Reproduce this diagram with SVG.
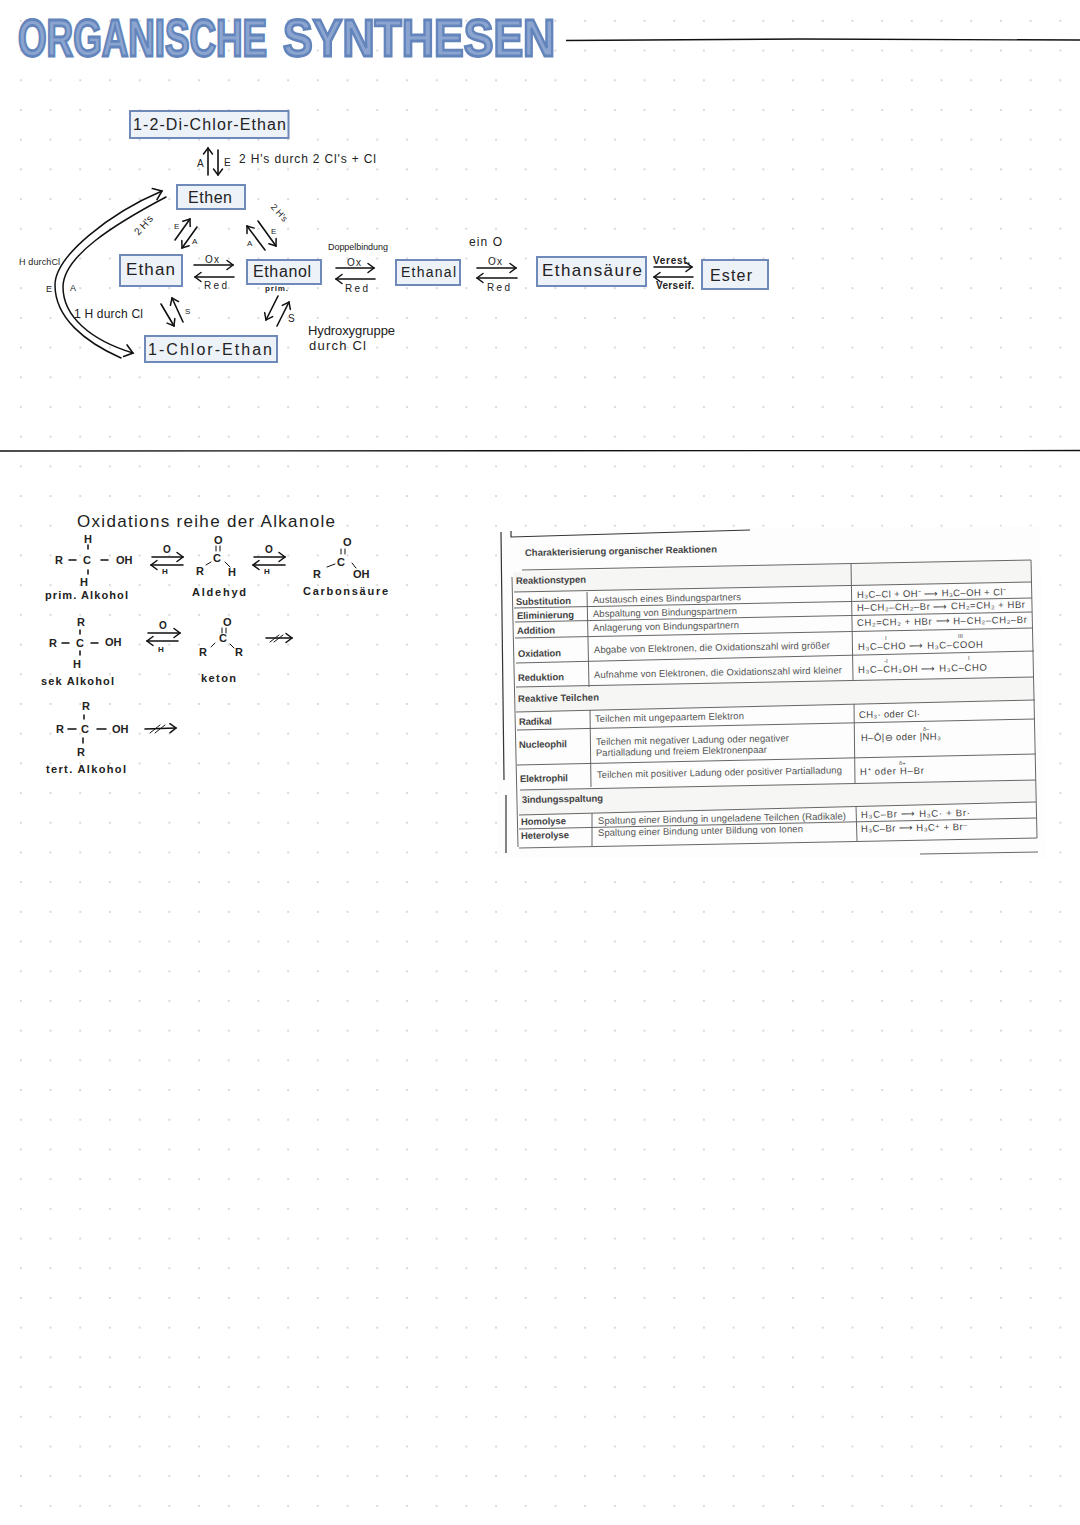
<svg xmlns="http://www.w3.org/2000/svg" width="1080" height="1525" viewBox="0 0 1080 1525">
<style>
text{font-family:"Liberation Sans",Arial,sans-serif;fill:#222}
.title{font-size:52px;font-weight:bold;fill:#8ba5d0;stroke:#6485bb;stroke-width:2.8}
.box{fill:#edf1f8;stroke:#6f8ab8;stroke-width:2}
.n{font-size:16px}
.s{font-size:10px}
.m{font-size:12px}
.c{font-size:11px;font-weight:bold}
.hw{fill:none;stroke:#111;stroke-width:1.5;stroke-linecap:round}
.ar{fill:none;stroke:#111;stroke-width:1.6;stroke-linecap:round;marker-end:url(#a)}
.bar{fill:none;stroke:#111;stroke-width:1.5;stroke-linecap:round;marker-end:url(#b)}
.rule{stroke:#666;stroke-width:1;fill:none}
.dark{stroke:#333;stroke-width:1.2;fill:none}
.tb{font-size:9.5px;font-weight:bold;fill:#444}
.tt{font-size:9.5px;fill:#555}
.tf{font-size:9.5px;fill:#444}
.ts{font-size:6px;fill:#555}
</style>
<defs>
<pattern id="dots" x="6" y="6" width="29.7" height="29.7" patternUnits="userSpaceOnUse"><circle cx="14.85" cy="14.85" r="0.9" fill="#c8c8c8"/></pattern>
<marker id="a" markerUnits="userSpaceOnUse" markerWidth="12" markerHeight="12" refX="9" refY="6" orient="auto"><path d="M3 1.5L9 6L3 10.5" fill="none" stroke="#111" stroke-width="1.5" stroke-linecap="round"/></marker>
<marker id="b" markerUnits="userSpaceOnUse" markerWidth="16" markerHeight="16" refX="12" refY="8" orient="auto"><path d="M4 2L12 8L4 14" fill="none" stroke="#111" stroke-width="1.6" stroke-linecap="round"/></marker>
</defs>
<rect width="1080" height="1525" fill="#fff"/>
<rect width="1080" height="1515" fill="url(#dots)"/>

<g id="title">
<text class="title" transform="translate(18 56) scale(.707 1)">ORGANISCHE</text>
<text class="title" transform="translate(283 56) scale(.857 1)">SYNTHESEN</text>
</g>
<g id="rules">
<path d="M566 40.5L800 39L1080 40" fill="none" stroke="#111" stroke-width="1.3"/>
<path d="M0 451L1080 450.5" fill="none" stroke="#111" stroke-width="1.3"/>
</g>

<g id="connectors">
<path class="ar" d="M208 175V148"/><path class="ar" d="M218 150V175"/>
<path class="bar" d="M121 358C85 342 55 318 55 285C55 256 110 213 162 191"/>
<path class="bar" d="M166 197C115 224 63 256 63 287C63 316 90 340 133 353"/>
<path class="ar" d="M175 240L190 219"/><path class="ar" d="M197 227L182 248"/>
<path class="ar" d="M265 250L247 226"/><path class="ar" d="M258 221L276 246"/>
<path class="ar" d="M194 265H233"/><path class="ar" d="M234 277H195"/>
<path class="ar" d="M336 268H374"/><path class="ar" d="M375 279H336"/>
<path class="ar" d="M477 268H516"/><path class="ar" d="M517 278H477"/>
<path class="ar" d="M654 267H692"/><path class="ar" d="M693 277H654"/>
<path class="ar" d="M161 304L174 326"/><path class="ar" d="M183 322L172 298"/>
<path class="ar" d="M278 296L266 320"/><path class="ar" d="M277 326L289 302"/>
<path class="ar" d="M152 557H183"/><path class="ar" d="M183 565H151"/>
<path class="ar" d="M254 557H285"/><path class="ar" d="M285 565H253"/>
<path class="ar" d="M148 633H180"/><path class="ar" d="M178 641H147"/>
<path class="ar" d="M266 638H292"/><path class="hw" style="stroke-width:1" d="M270 642L279 635M274 642L283 635"/>
<path class="ar" d="M145 729L176 728"/><path class="hw" style="stroke-width:1" d="M150 733L160 725M155 733L165 725"/>
</g>

<g id="n-dichlor"><rect class="box" x="130" y="111" width="158.500" height="27"/><text class="n" x="133" y="130" textLength="153">1-2-Di-Chlor-Ethan</text></g>
<g id="n-ethen"><rect class="box" x="177" y="185" width="68" height="24"/><text class="n" x="188" y="203" textLength="44">Ethen</text></g>
<g id="n-ethan"><rect class="box" x="120" y="255" width="62" height="31"/><text class="n" x="126" y="275" textLength="49" style="font-size:17px">Ethan</text></g>
<g id="n-ethanol"><rect class="box" x="247" y="260" width="74" height="24"/><text class="n" x="253" y="277" textLength="58">Ethanol</text></g>
<g id="n-chlor"><rect class="box" x="145" y="336" width="132" height="26"/><text class="n" x="148" y="355" textLength="124">1-Chlor-Ethan</text></g>
<g id="n-ethanal"><rect class="box" x="396" y="260" width="64" height="25"/><text class="n" x="401" y="277" textLength="55" style="font-size:14px">Ethanal</text></g>
<g id="n-saeure"><rect class="box" x="537" y="257" width="109" height="29"/><text class="n" x="542" y="276" textLength="100" style="font-size:17px">Ethansäure</text></g>
<g id="n-ester"><rect class="box" x="702" y="260" width="66" height="29"/><text class="n" x="710" y="281" textLength="42">Ester</text></g>

<g id="labels">
<text class="s" x="197" y="167">A</text><text class="s" x="224" y="166">E</text>
<text class="m" x="239" y="163" textLength="137">2 H's durch 2 Cl's + Cl</text>
<text class="s" transform="rotate(-48 143 225)" x="132" y="229">2 H's</text>
<text class="s" transform="rotate(48 280 212)" x="270" y="216" style="font-size:9px">2 H's</text>
<text class="s" x="174" y="229" style="font-size:8px">E</text><text class="s" x="192" y="244" style="font-size:8px">A</text>
<text class="s" x="247" y="246" style="font-size:8px">A</text><text class="s" x="271" y="234" style="font-size:8px">E</text>
<text class="s" x="185" y="314" style="font-size:8px">S</text><text class="s" x="288" y="322">S</text>
<text class="s" x="19" y="265" textLength="41" style="font-size:9px">H durchCl</text>
<text class="s" x="46" y="292" style="font-size:9px">E</text><text class="s" x="70" y="291" style="font-size:9px">A</text>
<text class="m" x="74" y="318" textLength="69">1 H durch Cl</text>
<text class="s" x="205" y="263" textLength="14">Ox</text><text class="s" x="204" y="289" textLength="23">Red</text>
<text class="s" x="265" y="291" textLength="23" style="font-size:8px;font-weight:bold">prim.</text>
<text class="s" x="328" y="250" textLength="60" style="font-size:9px">Doppelbindung</text>
<text class="s" x="347" y="266" textLength="14">Ox</text><text class="s" x="345" y="292" textLength="23">Red</text>
<text class="m" x="469" y="246" textLength="33">ein O</text>
<text class="s" x="488" y="265" textLength="14">Ox</text><text class="s" x="487" y="291" textLength="23">Red</text>
<text class="s" x="653" y="264" textLength="37" style="font-weight:bold">Verest.</text>
<text class="s" x="656" y="289" textLength="38" style="font-weight:bold">Verseif.</text>
<text class="m" x="308" y="335" textLength="87" style="font-size:13px">Hydroxygruppe</text>
<text class="m" x="309" y="350" textLength="57" style="font-size:13px">durch Cl</text>
</g>

<g id="oxidation">
<text x="77" y="527" font-size="17" textLength="258">Oxidations reihe der Alkanole</text>
<g class="chem">
<text class="c" x="84" y="543">H</text><path class="hw" d="M88 545V549M88 570V574"/>
<text class="c" x="55" y="564">R</text><path class="hw" d="M69 560H76M101 560H108"/>
<text class="c" x="83" y="564">C</text><text class="c" x="116" y="564">OH</text><text class="c" x="80" y="586">H</text>
<text class="c" x="45" y="599" textLength="83">prim. Alkohol</text>
<text class="s" x="163" y="553" style="font-weight:bold">O</text><text class="s" x="162" y="574" style="font-size:8px;font-weight:bold">H</text>
<text class="c" x="214" y="544">O</text><path class="hw" style="stroke-width:1" d="M216 546V551M220 546V551M206 565L211 562M225 562L230 567"/>
<text class="c" x="213" y="562">C</text><text class="c" x="196" y="575">R</text><text class="c" x="228" y="576">H</text>
<text class="c" x="192" y="596" textLength="54">Aldehyd</text>
<text class="s" x="265" y="553" style="font-weight:bold">O</text><text class="s" x="264" y="574" style="font-size:8px;font-weight:bold">H</text>
<text class="c" x="343" y="546">O</text><path class="hw" style="stroke-width:1" d="M341 549V554M345 549V554M327 567L335 564M352 563L356 568"/>
<text class="c" x="337" y="566">C</text><text class="c" x="313" y="578">R</text><text class="c" x="353" y="578">OH</text>
<text class="c" x="303" y="595" textLength="85">Carbonsäure</text>
<text class="c" x="77" y="626">R</text><path class="hw" d="M80 630V634M80 651V655M62 643H69M91 643H98"/>
<text class="c" x="49" y="647">R</text><text class="c" x="76" y="647">C</text><text class="c" x="105" y="646">OH</text><text class="c" x="73" y="668">H</text>
<text class="c" x="41" y="685" textLength="73">sek Alkohol</text>
<text class="s" x="159" y="629" style="font-weight:bold">O</text><text class="s" x="158" y="652" style="font-size:8px;font-weight:bold">H</text>
<text class="c" x="223" y="626">O</text><path class="hw" style="stroke-width:1" d="M222 628V633M226 628V633M211 647L215 643M230 644L234 648"/>
<text class="c" x="219" y="642">C</text><text class="c" x="199" y="656">R</text><text class="c" x="235" y="656">R</text>
<text class="c" x="201" y="682" textLength="35">keton</text>
<text class="c" x="82" y="710">R</text><path class="hw" d="M84 715V719M83 738V743M68 729H76M97 729H106"/>
<text class="c" x="56" y="733">R</text><text class="c" x="81" y="733">C</text><text class="c" x="112" y="733">OH</text><text class="c" x="77" y="756">R</text>
<text class="c" x="46" y="773" textLength="80">tert. Alkohol</text>
</g>
</g>

<g id="table">
<path d="M497 531L1040 526L1045 858L497 858Z" fill="#fdfdfd"/>
<path d="M514 592L1031 582L1031 560L513 572Z M516 712L1035 700L1034 677L516 687Z M519 815L1036 802L1036 780L520 790Z" fill="#f6f6f5"/>
<path class="dark" d="M501 532L504 780M506 795L506 853M511 531V537L750 530"/>
<path class="rule" d="M522 570L1031 560M512 577L518 847M1031 560L1037 838M920 854L1038 852"/>
<path class="rule" d="M514 592L1031 582M514 608L1032 598M515 622L1032 612M515 638L1033 628M516 663L1034 651M516 687L1034 677M516 712L1035 700M517 730L1035 719M517 765L1036 754M520 790L1036 780M519 815L1036 802M519 829L1036 818M519 848L1037 838"/>
<path class="rule" d="M587 592L589 687M590 710L591 787M592 813L592 846M851 563L853 680M854 704L855 783M856 806L857 841"/>
<g id="table-text">
<text class="tb" transform="rotate(-1.1 525 556)" x="525" y="556" textLength="192">Charakterisierung organischer Reaktionen</text>
<text class="tb" transform="rotate(-1.1 516 584)" x="516" y="584" textLength="70">Reaktionstypen</text>
<text class="tb" transform="rotate(-1.1 516 605)" x="516" y="605" textLength="55">Substitution</text>
<text class="tb" transform="rotate(-1.1 517 619)" x="517" y="619" textLength="57">Eliminierung</text>
<text class="tb" transform="rotate(-1.1 517 634)" x="517" y="634" textLength="38">Addition</text>
<text class="tb" transform="rotate(-1.1 518 657)" x="518" y="657" textLength="43">Oxidation</text>
<text class="tb" transform="rotate(-1.1 518 681)" x="518" y="681" textLength="46">Reduktion</text>
<text class="tb" transform="rotate(-1.1 518 702)" x="518" y="702" textLength="81">Reaktive Teilchen</text>
<text class="tb" transform="rotate(-1.1 519 725)" x="519" y="725" textLength="33">Radikal</text>
<text class="tb" transform="rotate(-1.1 519 748)" x="519" y="748" textLength="48">Nucleophil</text>
<text class="tb" transform="rotate(-1.1 520 782)" x="520" y="782" textLength="48">Elektrophil</text>
<text class="tb" transform="rotate(-1.1 522 803)" x="522" y="803" textLength="81">3indungsspaltung</text>
<text class="tb" transform="rotate(-1.1 521 825)" x="521" y="825" textLength="45">Homolyse</text>
<text class="tb" transform="rotate(-1.1 521 839)" x="521" y="839" textLength="48">Heterolyse</text>
<text class="tt" transform="rotate(-1.1 593 603)" x="593" y="603" textLength="148">Austausch eines Bindungspartners</text>
<text class="tt" transform="rotate(-1.1 593 617)" x="593" y="617" textLength="144">Abspaltung von Bindungspartnern</text>
<text class="tt" transform="rotate(-1.1 593 631)" x="593" y="631" textLength="146">Anlagerung von Bindungspartnern</text>
<text class="tt" transform="rotate(-1.1 594 653)" x="594" y="653" textLength="236">Abgabe von Elektronen, die Oxidationszahl wird größer</text>
<text class="tt" transform="rotate(-1.1 594 678)" x="594" y="678" textLength="248">Aufnahme von Elektronen, die Oxidationszahl wird kleiner</text>
<text class="tt" transform="rotate(-1.1 595 722)" x="595" y="722" textLength="149">Teilchen mit ungepaartem Elektron</text>
<text class="tt" transform="rotate(-1.1 596 745)" x="596" y="745" textLength="193">Teilchen mit negativer Ladung oder negativer</text>
<text class="tt" transform="rotate(-1.1 596 756)" x="596" y="756" textLength="171">Partialladung und freiem Elektronenpaar</text>
<text class="tt" transform="rotate(-1.1 597 778)" x="597" y="778" textLength="245">Teilchen mit positiver Ladung oder positiver Partialladung</text>
<text class="tt" transform="rotate(-1.1 598 824)" x="598" y="824" textLength="248">Spaltung einer Bindung in ungeladene Teilchen (Radikale)</text>
<text class="tt" transform="rotate(-1.1 598 836)" x="598" y="836" textLength="205">Spaltung einer Bindung unter Bildung von Ionen</text>
<text class="tf" transform="rotate(-1.1 857 598)" x="857" y="598" textLength="149">H₃C–Cl + OH⁻ ⟶ H₃C–OH + Cl⁻</text>
<text class="tf" transform="rotate(-1.1 857 611)" x="857" y="611" textLength="168">H–CH₂–CH₂–Br ⟶ CH₂=CH₂ + HBr</text>
<text class="tf" transform="rotate(-1.1 857 626)" x="857" y="626" textLength="170">CH₂=CH₂ + HBr ⟶ H–CH₂–CH₂–Br</text>
<text class="tf" transform="rotate(-1.1 858 650)" x="858" y="650" textLength="125">H₃C–CHO ⟶ H₃C–COOH</text>
<text class="ts" x="885" y="640">I</text><text class="ts" x="958" y="638">III</text>
<text class="tf" transform="rotate(-1.1 858 673)" x="858" y="673" textLength="129">H₃C–CH₂OH ⟶ H₃C–CHO</text>
<text class="ts" x="884" y="663">-I</text><text class="ts" x="968" y="660">I</text>
<text class="tf" transform="rotate(-1.1 859 718)" x="859" y="718" textLength="61">CH₃· oder Cl·</text>
<text class="tf" transform="rotate(-1.1 861 741)" x="861" y="741" textLength="80">H–Ō|⊖ oder |NH₃</text>
<text class="ts" x="923" y="731">δ–</text>
<text class="tf" transform="rotate(-1.1 860 775)" x="860" y="775" textLength="64">H⁺ oder H–Br</text>
<text class="ts" x="899" y="765">δ+</text>
<text class="tf" transform="rotate(-1.1 861 818)" x="861" y="818" textLength="109">H₃C–Br ⟶ H₃C· + Br·</text>
<text class="tf" transform="rotate(-1.1 861 832)" x="861" y="832" textLength="107">H₃C–Br ⟶ H₃C⁺ + Br⁻</text>
</g>
</g>
</svg>
